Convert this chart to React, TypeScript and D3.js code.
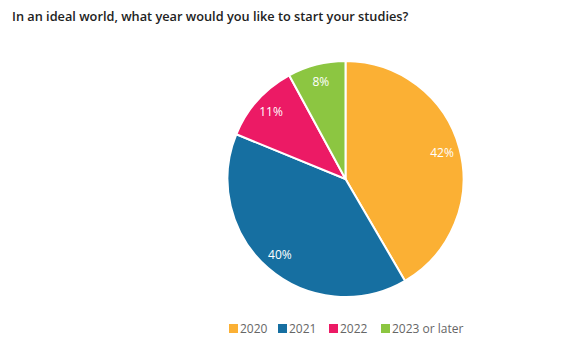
import { useRef, useEffect } from 'react';
import * as d3 from 'd3';

const categories = ['2020', '2021', '2022', '2023 or later'];
const values = [42, 40, 11, 8];
const colors = ['#FBB034', '#166FA1', '#EC1A65', '#8CC641'];
const title = 'In an ideal world, what year would you like to start your studies?';

export default function App() {
  const svgRef = useRef<SVGSVGElement>(null);
  const width = 583;
  const height = 358;

  useEffect(() => {
    const svg = d3.select(svgRef.current);
    svg.selectAll('*').remove();

    svg.append('text')
      .attr('x', 12).attr('y', 21)
      .attr('font-family', 'Open Sans').attr('font-size', 12.75).attr('font-weight', 600)
      .attr('fill', '#222')
      .text(title);

    const cx = 345.5, cy = 179, r = 118;
    const data = categories.map((c, i) => ({ c, v: values[i], color: colors[i] }));
    const pie = d3.pie<typeof data[0]>().value(d => d.v).sort(null);
    const arcs = pie(data);
    const arc = d3.arc<d3.PieArcDatum<typeof data[0]>>().innerRadius(0).outerRadius(r);
    const labelArc = d3.arc<d3.PieArcDatum<typeof data[0]>>().innerRadius(100).outerRadius(100);

    const g = svg.append('g').attr('transform', `translate(${cx},${cy})`);
    g.selectAll('path').data(arcs).join('path')
      .attr('d', arc)
      .attr('fill', d => d.data.color)
      .attr('stroke', '#fff').attr('stroke-width', 2);

    g.selectAll('text').data(arcs).join('text')
      .attr('transform', d => `translate(${labelArc.centroid(d)})`)
      .attr('text-anchor', 'middle').attr('dy', '0.35em')
      .attr('font-family', 'Open Sans').attr('font-size', 12)
      .attr('fill', '#fff')
      .text(d => `${d.data.v}%`);

    // Legend
    const xs = [229, 278, 329, 381];
    const lg = svg.append('g').attr('transform', 'translate(0,329)');
    data.forEach((d, i) => {
      lg.append('rect').attr('x', xs[i]).attr('y', -5).attr('width', 9).attr('height', 9)
        .attr('fill', d.color);
      lg.append('text').attr('x', xs[i] + 11).attr('y', 0).attr('dy', '0.35em')
        .attr('font-family', 'Open Sans').attr('font-size', 12)
        .attr('fill', '#666').text(d.c);
    });
  }, []);

  return <svg ref={svgRef} width={width} height={height} style={{ display: 'block', margin: '-8px' }} />;
}
